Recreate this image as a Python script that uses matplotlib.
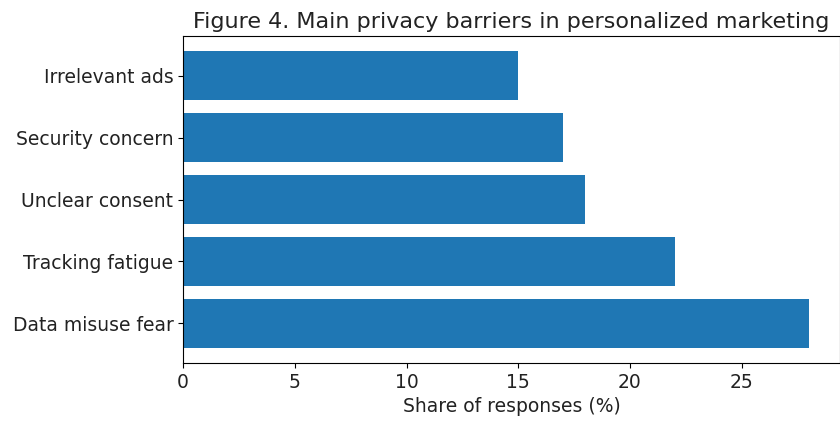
import matplotlib
matplotlib.use("Agg")
import matplotlib.pyplot as plt

barriers = ['Data misuse fear', 'Tracking fatigue', 'Unclear consent',
            'Security concern', 'Irrelevant ads']
shares = [28, 22, 18, 17, 15]

fig = plt.figure(figsize=(8.4, 4.25), dpi=100)
ax = fig.add_axes([0.218, 0.146, 0.782, 0.769])
ax.barh(barriers, shares, color='#1f77b4')
ax.set_title('Figure 4. Main privacy barriers in personalized marketing',
             fontsize=16, color='#222222')
ax.set_xlabel('Share of responses (%)', fontsize=13.5, color='#222222')
ax.tick_params(labelsize=13.5, labelcolor='#222222')
fig.savefig('out.png', dpi=100)
